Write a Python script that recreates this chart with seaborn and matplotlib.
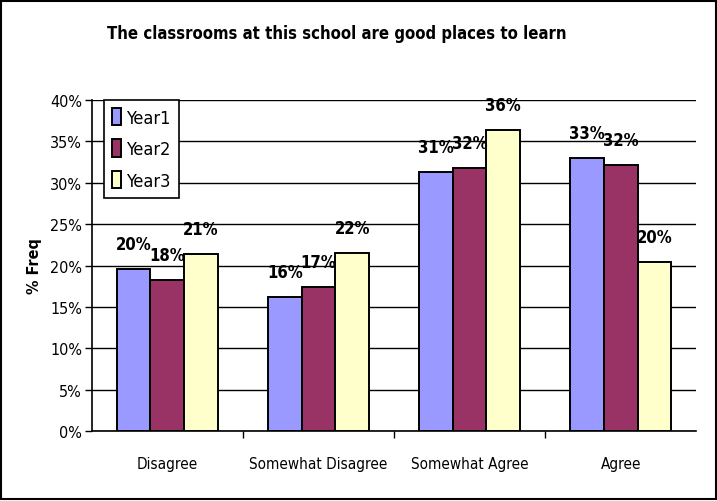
import pandas as pd
import numpy as np
import matplotlib
matplotlib.use("Agg")
from matplotlib import pyplot as plt
from matplotlib.patches import Rectangle
import seaborn as sns

# data (% of responses)
categories = ["Disagree", "Somewhat Disagree", "Somewhat Agree", "Agree"]
years = ["Year1", "Year2", "Year3"]
year1 = [19.6, 16.2, 31.3, 33.0]
year2 = [18.3, 17.4, 31.8, 32.2]
year3 = [21.4, 21.5, 36.4, 20.4]
labels1 = ["20%", "16%", "31%", "33%"]
labels2 = ["18%", "17%", "32%", "32%"]
labels3 = ["21%", "22%", "36%", "20%"]
colors = ["#9999FF", "#993366", "#FFFFCC"]

df = pd.DataFrame({
    "category": categories * 3,
    "year": np.repeat(years, len(categories)),
    "freq": year1 + year2 + year3,
})

sns.set_style("white")
plt.rcParams["font.family"] = ["DejaVu Sans"]
plt.rcParams["font.stretch"] = "condensed"
plt.rcParams["text.color"] = "black"
plt.rcParams["axes.labelcolor"] = "black"
plt.rcParams["xtick.color"] = "black"
plt.rcParams["ytick.color"] = "black"

fig = plt.figure(figsize=(7.17, 5.02), dpi=100)
ax = fig.add_axes([0.128, 0.139, 0.843, 0.660])

sns.barplot(data=df, x="category", y="freq", hue="year", order=categories,
            hue_order=years, palette=colors, width=0.67, edgecolor="black",
            linewidth=1.4, saturation=1, ax=ax, zorder=3)

ax.set_ylim(0, 40)
ax.set_xlim(-0.5, 3.5)
ax.set_yticks(range(0, 41, 5))
ax.set_yticklabels([f"{v}%" for v in range(0, 41, 5)], fontsize=11.5)
ax.set_xticks(range(len(categories)))
ax.set_xticklabels(categories, fontsize=11)
ax.tick_params(axis="x", length=0, pad=18)
ax.tick_params(axis="y", length=5, width=1, direction="out", left=True, pad=2)
# separators between categories on the x axis
ax.set_xticks([0.5, 1.5, 2.5], minor=True)
ax.tick_params(axis="x", which="minor", length=5, width=1, direction="out", bottom=True)

ax.grid(axis="y", color="black", linewidth=1, zorder=0)
for s in ["top", "right"]:
    ax.spines[s].set_visible(False)
for s in ["left", "bottom"]:
    ax.spines[s].set_color("black")
    ax.spines[s].set_linewidth(1.2)

ax.set_xlabel("")
ax.set_ylabel("% Freq", fontsize=11.5, fontweight="bold", labelpad=6)

all_labels = [labels1, labels2, labels3]
for cont, labs in zip(ax.containers, all_labels):
    for bar, lab in zip(cont, labs):
        ax.annotate(lab, (bar.get_x() + bar.get_width() / 2, bar.get_height()),
                    xytext=(0, 18), textcoords="offset points", ha="center",
                    va="center", fontsize=12, fontweight="bold")

ax.legend(loc="upper left", bbox_to_anchor=(0.145, 0.799), bbox_transform=fig.transFigure,
          borderaxespad=0, fontsize=13, frameon=True, fancybox=False, edgecolor="black",
          handlelength=0.5, handleheight=1.1, handletextpad=0.3,
          borderpad=0.45, labelspacing=0.7, framealpha=1)
ax.get_legend().get_frame().set_linewidth(1.2)

fig.text(0.469, 0.932, "The classrooms at this school are good places to learn",
         ha="center", va="center", fontsize=12, fontweight="bold")

fig.patches.append(Rectangle((0.002, 0.003), 0.996, 0.994, transform=fig.transFigure,
                             fill=False, edgecolor="black", linewidth=1.5))

fig.savefig("out.png", dpi=100)
